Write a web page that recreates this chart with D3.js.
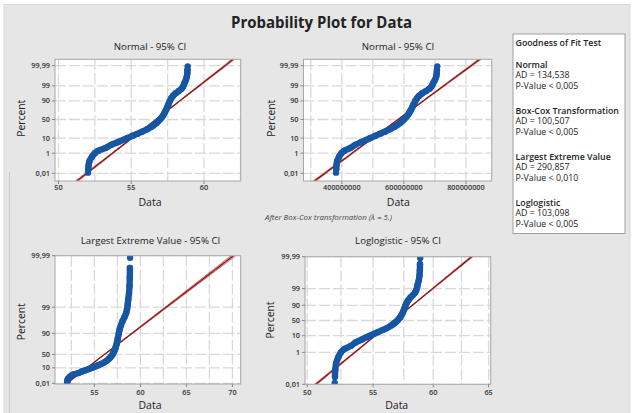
<!DOCTYPE html>
<html><head><meta charset="utf-8">
<script src="https://cdn.jsdelivr.net/npm/d3@7/dist/d3.min.js"></script>
<style>body{margin:0;background:#fff;} svg{display:block;} text{font-family:'Open Sans','Noto Sans',sans-serif;fill:#222;}</style>
</head><body><svg id="c" width="634" height="413"></svg>
<script>
const percents = [0.012,0.03,0.08,0.2,0.5,1,1.5,2.5,4,6,8,10,13,16,20,25,30,35,40,45,50,55,60,65,70,75,80,85,90,93,95,96.5,97.5,98.3,98.8,99.2,99.5,99.7,99.85,99.93,99.97,99.988];
const values   = [52.03,52.05,52.07,52.13,52.3,52.5,52.72,53.25,53.62,54.1,54.45,54.75,55.1,55.4,55.75,56.1,56.35,56.55,56.72,56.85,56.97,57.07,57.17,57.25,57.32,57.4,57.47,57.55,57.65,57.75,57.88,58.05,58.25,58.45,58.55,58.62,58.68,58.76,58.82,58.85,58.86,58.88];
const sampleSize = 5800;
const boxCoxLambda = 5;

// fitted distributions (location, scale) in linearised space
const fitNormal = [56.69, 1.278];
const fitBoxCox = [5.81e8, 0.634e8];
const fitLEV = [55.52, 1.584];
const fitLoglogistic = [4.0372, 0.01225];

// ticks
const yTicksNormal = [0.01,1,10,50,90,99,99.99];
const yTicksLEV = [0.01,10,50,90,99,99.99];
const yTicksLoglog = [0.01,1,10,50,90,99,99.99];
const xTicksNormal = [50,55,60];
const xGridNormal = [50,52.5,55,57.5,60,62.5];
const xTicksBoxCox = [4e8,6e8,8e8];
const xGridBoxCox = [3e8,4e8,5e8,6e8,7e8,8e8];
const xTicksLEV = [55,60,65,70];
const xGridLEV = [52.5,55,57.5,60,62.5,65,67.5,70];
const xTicksLoglog = [50,55,60,65];
const xGridLoglog = [50,52.5,55,57.5,60,62.5,65];

// legend
const gofNames = ["Normal","Box-Cox Transformation","Largest Extreme Value","Loglogistic"];
const gofAD = ["134,538","100,507","290,857","103,098"];
const gofP = ["0,005","0,005","0,010","0,005"];

// ---------- helpers ----------
function qnorm(p){
 const a=[-3.969683028665376e+01,2.209460984245205e+02,-2.759285104469687e+02,1.383577518672690e+02,-3.066479806614716e+01,2.506628277459239e+00];
 const b=[-5.447609879822406e+01,1.615858368580409e+02,-1.556989798598866e+02,6.680131188771972e+01,-1.328068155288572e+01];
 const c=[-7.784894002430293e-03,-3.223964580411365e-01,-2.400758277161838e+00,-2.549732539343734e+00,4.374664141464968e+00,2.938163982698783e+00];
 const d=[7.784695709041462e-03,3.224671290700398e-01,2.445134137142996e+00,3.754408661907416e+00];
 const pl=0.02425; let q,r;
 if(p<pl){q=Math.sqrt(-2*Math.log(p));return (((((c[0]*q+c[1])*q+c[2])*q+c[3])*q+c[4])*q+c[5])/((((d[0]*q+d[1])*q+d[2])*q+d[3])*q+1);}
 if(p>1-pl){q=Math.sqrt(-2*Math.log(1-p));return -(((((c[0]*q+c[1])*q+c[2])*q+c[3])*q+c[4])*q+c[5])/((((d[0]*q+d[1])*q+d[2])*q+d[3])*q+1);}
 q=p-0.5;r=q*q;return (((((a[0]*r+a[1])*r+a[2])*r+a[3])*r+a[4])*r+a[5])*q/(((((b[0]*r+b[1])*r+b[2])*r+b[3])*r+b[4])*r+1);
}
const gumbel = p => -Math.log(-Math.log(p));
const logit = p => Math.log(p/(1-p));
const fmtPct = p => String(p).replace('.',',');

const svg = d3.select("#c");
// backgrounds
svg.append("rect").attr("x",0).attr("y",0).attr("width",634).attr("height",413).attr("fill","#ffffff");
svg.append("rect").attr("x",4).attr("y",4.5).attr("width",626).attr("height",409).attr("fill","#e6e6e6").attr("stroke","#d0d0d0").attr("stroke-width",0.8);
svg.append("line").attr("x1",9.5).attr("x2",9.5).attr("y1",172).attr("y2",413).attr("stroke","#c9c9c9");

svg.append("text").attr("x",321.5).attr("y",28).attr("text-anchor","middle")
 .attr("font-size",15.5).attr("font-weight",700).attr("textLength",181).attr("lengthAdjust","spacingAndGlyphs")
 .text("Probability Plot for Data");

const panels = [
 {title:"Normal - 95% CI", tx:150, ty:50, box:[55,59.3,240.7,181], yT:qnorm, yDom:[-4.25,4.16],
  yTicks:yTicksNormal, xType:"linear", xDom:[49.76,62.52], xTicks:xTicksNormal, xGrid:xGridNormal, xFmt:d=>String(d),
  dataX:v=>v, fit:fitNormal, toX:u=>u, xlab:[150,205.5], xtickY:189.5, ylab:[21.7,118.3]},
 {title:"Normal - 95% CI", tx:398, ty:50, box:[303.5,59.3,491.7,181], yT:qnorm, yDom:[-4.25,4.16],
  yTicks:yTicksNormal, xType:"linear", xDom:[2.765e8,8.83e8], xTicks:xTicksBoxCox, xGrid:xGridBoxCox, xFmt:d=>d3.format("d")(d),
  dataX:v=>Math.pow(v,boxCoxLambda), fit:fitBoxCox, toX:u=>u, xlab:[398.3,205.5], xtickY:189.5, ylab:[271.7,118.3]},
 {title:"Largest Extreme Value - 95% CI", tx:150.5, ty:244, box:[55,255.7,240.7,384], yT:gumbel, yDom:[-2.283,9.2103],
  yTicks:yTicksLEV, xType:"linear", xDom:[50.72,70.9], xTicks:xTicksLEV, xGrid:xGridLEV, xFmt:d=>String(d),
  dataX:v=>v, fit:fitLEV, toX:u=>u, xlab:[150,409], xtickY:394.5, ylab:[21.7,321.7]},
 {title:"Loglogistic - 95% CI", tx:398, ty:244, box:[305,256.7,490.7,384.3], yT:logit, yDom:[-9.2102,9.2102],
  yTicks:yTicksLoglog, xType:"log", xDom:[49.84,65.2], xTicks:xTicksLoglog, xGrid:xGridLoglog, xFmt:d=>String(d),
  dataX:v=>v, fit:fitLoglogistic, toX:u=>Math.exp(u), xlab:[396.7,409], xtickY:395, ylab:[270.7,320]}
];

panels.forEach((P,i)=>{
 const [x0,y0,x1,y1]=P.box;
 const xs = (P.xType==="log"?d3.scaleLog():d3.scaleLinear()).domain(P.xDom).range([x0,x1]);
 const ys = d3.scaleLinear().domain(P.yDom).range([y1,y0]);
 const g = svg.append("g");
 const cid = "clip"+i;
 svg.append("clipPath").attr("id",cid).append("rect").attr("x",x0).attr("y",y0).attr("width",x1-x0).attr("height",y1-y0);
 g.append("rect").attr("x",x0).attr("y",y0).attr("width",x1-x0).attr("height",y1-y0).attr("fill","#fff");
 const inner = g.append("g").attr("clip-path",`url(#${cid})`);
 // grid
 inner.selectAll(".hg").data(P.yTicks).join("line")
  .attr("x1",x0).attr("x2",x1).attr("y1",d=>ys(P.yT(d/100))).attr("y2",d=>ys(P.yT(d/100)))
  .attr("stroke","#d9d9d9").attr("stroke-width",1.3).attr("stroke-dasharray","11,3");
 inner.selectAll(".vg").data(P.xGrid).join("line")
  .attr("y1",y0).attr("y2",y1).attr("x1",d=>xs(d)).attr("x2",d=>xs(d))
  .attr("stroke","#d9d9d9").attr("stroke-width",1.3).attr("stroke-dasharray","11,3");
 // fit + CI
 const [mu,sc]=P.fit;
 const tgrid = d3.range(81).map(k=>P.yDom[0]+(P.yDom[1]-P.yDom[0])*k/80);
 const hw = t=>1.96*sc*Math.sqrt((1+t*t/2)/sampleSize);
 inner.append("path").datum(tgrid)
  .attr("d",d3.area().x0(t=>xs(P.toX(mu+sc*t-hw(t)))).x1(t=>xs(P.toX(mu+sc*t+hw(t)))).y(t=>ys(t)))
  .attr("fill","#d07878").attr("opacity",0.55);
 [-1,1].forEach(s=>inner.append("path").datum(tgrid)
  .attr("d",d3.line().x(t=>xs(P.toX(mu+sc*t+s*hw(t)))).y(t=>ys(t)))
  .attr("fill","none").attr("stroke","#b03a3a").attr("stroke-width",0.6));
 inner.append("path").datum(tgrid)
  .attr("d",d3.line().x(t=>xs(P.toX(mu+sc*t))).y(t=>ys(t)))
  .attr("fill","none").attr("stroke","#8e1212").attr("stroke-width",1.2);
 // data
 const pts = percents.map((p,k)=>({x:xs(P.dataX(values[k])), y:ys(P.yT(p/100))}));
 inner.append("path").datum(pts.slice(1,pts.length-1))
  .attr("d",d3.line().x(d=>d.x).y(d=>d.y).curve(d3.curveCatmullRom))
  .attr("fill","none").attr("stroke","#1656a3").attr("stroke-width",6.4)
  .attr("stroke-linejoin","round").attr("stroke-linecap","round");
 inner.selectAll(".pt").data(pts).join("circle").attr("cx",d=>d.x).attr("cy",d=>d.y).attr("r",3.2).attr("fill","#1656a3");
 // border
 g.append("rect").attr("x",x0).attr("y",y0).attr("width",x1-x0).attr("height",y1-y0)
  .attr("fill","none").attr("stroke","#a6a6a6").attr("stroke-width",1);
 // y ticks
 P.yTicks.forEach(d=>{
  const y=ys(P.yT(d/100));
  g.append("line").attr("x1",x0-3).attr("x2",x0).attr("y1",y).attr("y2",y).attr("stroke","#888");
  g.append("text").attr("x",x0-5).attr("y",y).attr("dy","0.34em").attr("text-anchor","end")
   .attr("font-size",7.3).attr("font-weight",600).style("fill","#333").text(fmtPct(d));
 });
 P.xTicks.forEach(d=>{
  const x=xs(d);
  g.append("line").attr("x1",x).attr("x2",x).attr("y1",y1).attr("y2",y1+3).attr("stroke","#888");
  g.append("text").attr("x",x).attr("y",P.xtickY).attr("text-anchor","middle")
   .attr("font-size",7.3).attr("font-weight",600).style("fill","#333").text(P.xFmt(d));
 });
 g.append("text").attr("x",P.tx).attr("y",P.ty).attr("text-anchor","middle").attr("font-size",9.7).text(P.title);
 g.append("text").attr("x",P.xlab[0]).attr("y",P.xlab[1]).attr("text-anchor","middle").attr("font-size",10.5).text("Data");
 g.append("text").attr("transform",`translate(${P.ylab[0]},${P.ylab[1]}) rotate(-90)`).attr("dy","0.35em")
  .attr("text-anchor","middle").attr("font-size",10.3).text("Percent");
});

svg.append("text").attr("x",328.5).attr("y",219.5).attr("text-anchor","middle").attr("font-size",6.4)
 .attr("font-style","italic").style("fill","#444").attr("textLength",127).attr("lengthAdjust","spacingAndGlyphs")
 .text("After Box-Cox transformation (\u03bb =  5.)");

// legend
const lg = svg.append("g");
lg.append("rect").attr("x",513).attr("y",34).attr("width",112).attr("height",199.5).attr("fill","#fff").attr("stroke","#a0a0a0");
lg.append("text").attr("x",515.5).attr("y",45.8).attr("font-size",8.8).attr("font-weight",600).text("Goodness of Fit Test");
gofNames.forEach((n,i)=>{
 const y=67.5+46*i;
 lg.append("text").attr("x",515.5).attr("y",y).attr("font-size",8.8).attr("font-weight",600).text(n);
 lg.append("text").attr("x",515.5).attr("y",y+10.7).attr("font-size",8.8).attr("font-weight",500).text("AD = "+gofAD[i]);
 lg.append("text").attr("x",515.5).attr("y",y+21.4).attr("font-size",8.8).attr("font-weight",500).text("P-Value < "+gofP[i]);
});
</script></body></html>
